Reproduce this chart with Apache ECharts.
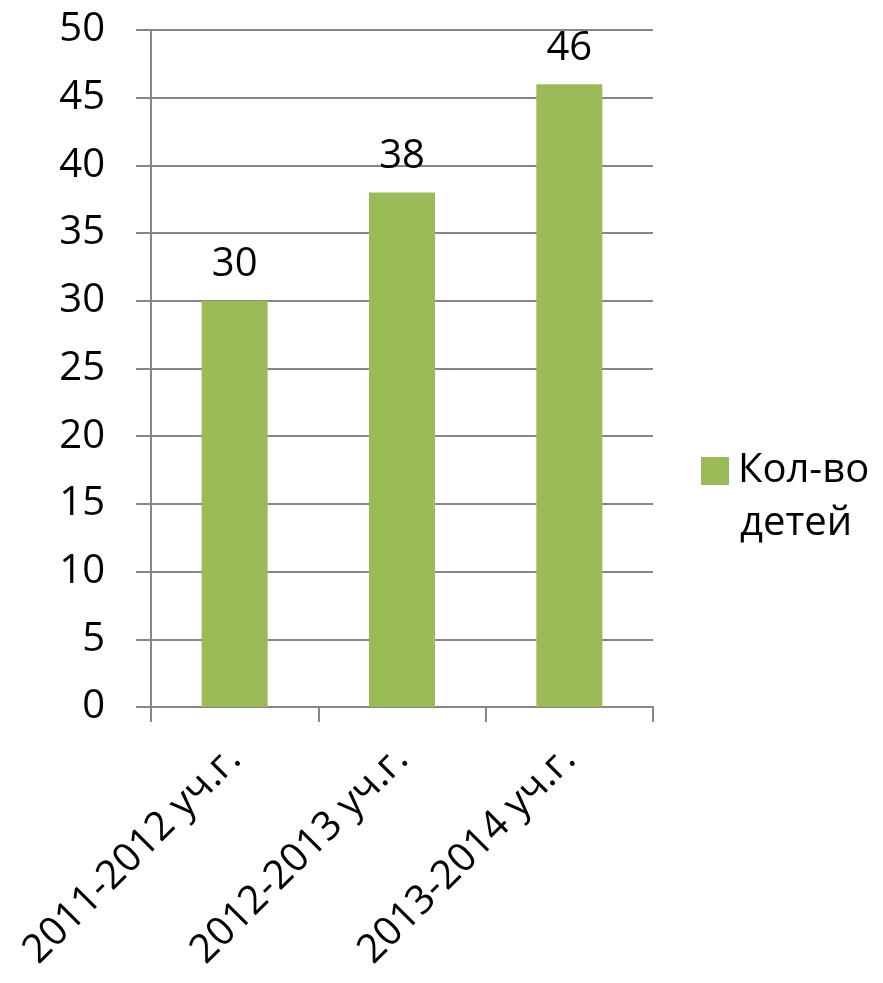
<!DOCTYPE html>
<html>
<head>
<meta charset="utf-8">
<script src="https://cdn.jsdelivr.net/npm/echarts@6/dist/echarts.min.js"></script>
<style>
  html, body { margin: 0; padding: 0; background: #fff; }
  #main { width: 883px; height: 983px; }
</style>
</head>
<body>
<div id="main"></div>
<script>
var chart = echarts.init(document.getElementById('main'));

// данные
var categories = ['2011-2012 уч.г.', '2012-2013 уч.г.', '2013-2014 уч.г.'];
var values = [30, 38, 46];
var seriesName = 'Кол-во детей';
var legendLines = ['Кол-во', 'детей'];

var fontName = '"Open Sans", "Noto Sans", sans-serif';

var option = {
    animation: false,
    backgroundColor: '#fff',
    grid: {
        left: 151,
        top: 30,
        width: 502,
        height: 677
    },
    legend: {
        left: 696,
        top: 446,
        itemWidth: 28,
        itemHeight: 28,
        itemGap: 12,
        icon: 'rect',
        data: [seriesName],
        formatter: function () { return legendLines[0]; },
        textStyle: {
            fontFamily: fontName,
            fontSize: 40,
            color: '#000',
            padding: [0, 0, 0, 4]
        }
    },
    // вторая строка подписи легенды
    graphic: [{
        type: 'text',
        left: 740,
        top: 504,
        style: {
            text: legendLines[1],
            fontFamily: fontName,
            fontSize: 40,
            fill: '#000'
        }
    }],
    xAxis: {
        type: 'category',
        data: categories,
        axisLine: { lineStyle: { color: '#868686', width: 2 } },
        axisTick: { show: true, length: 15, lineStyle: { color: '#868686', width: 2 } },
        axisLabel: {
            rotate: 45,
            margin: 46,
            fontFamily: fontName,
            fontSize: 40,
            color: '#000'
        }
    },
    yAxis: {
        type: 'value',
        min: 0,
        max: 50,
        interval: 5,
        axisLine: { show: true, lineStyle: { color: '#868686', width: 2 } },
        axisTick: { show: true, length: 15, lineStyle: { color: '#868686', width: 2 } },
        splitLine: { lineStyle: { color: '#868686', width: 2 } },
        axisLabel: {
            margin: 46,
            fontFamily: fontName,
            fontSize: 40,
            color: '#000'
        }
    },
    series: [{
        name: seriesName,
        type: 'bar',
        data: values,
        barWidth: 66,
        itemStyle: { color: '#9BBB59' },
        label: {
            show: true,
            position: 'top',
            distance: 16,
            fontFamily: fontName,
            fontSize: 40,
            color: '#000'
        }
    }]
};

chart.setOption(option);
</script>
</body>
</html>
